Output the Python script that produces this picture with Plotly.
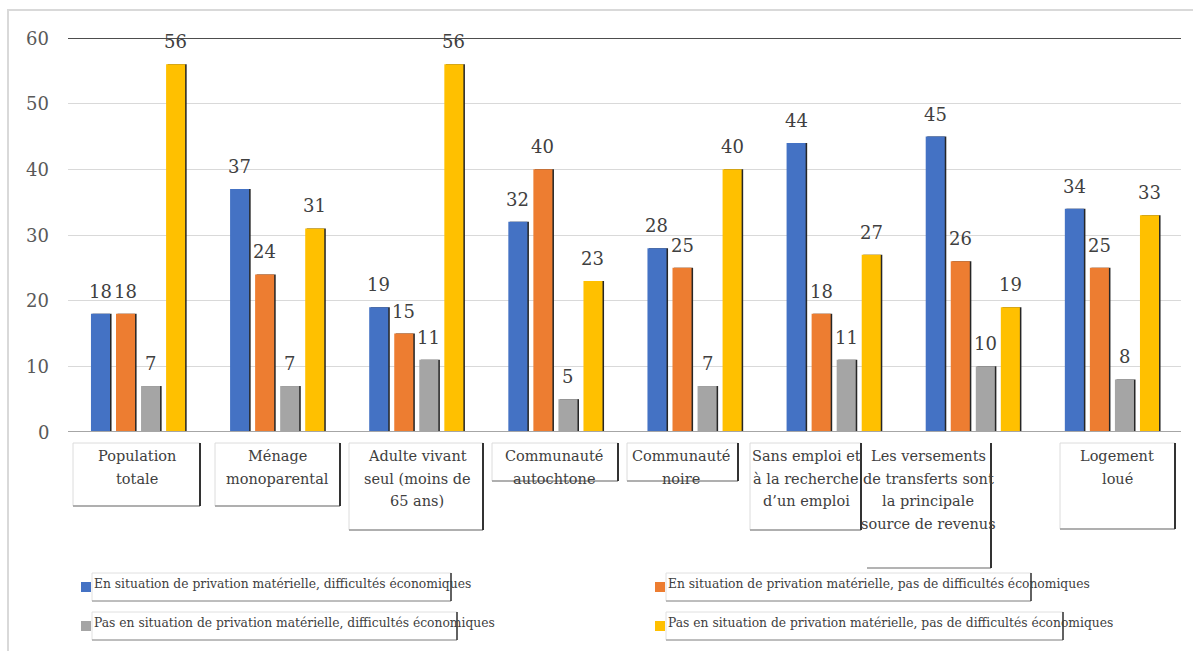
import plotly.graph_objects as go

# ---- data -------------------------------------------------------------
categories = [
    "Population<br>totale",
    "Ménage<br>monoparental",
    "Adulte vivant<br>seul (moins de<br>65 ans)",
    "Communauté<br>autochtone",
    "Communauté<br>noire",
    "Sans emploi et<br>à la recherche<br>d’un emploi",
    "Les versements<br>de transferts sont<br>la principale<br>source de revenus",
    "Logement<br>loué",
]
series_names = [
    "En situation de privation matérielle, difficultés économiques",
    "En situation de privation matérielle, pas de difficultés économiques",
    "Pas en situation de privation matérielle, difficultés économiques",
    "Pas en situation de privation matérielle, pas de difficultés économiques",
]
privation_difficultes = [18, 37, 19, 32, 28, 44, 45, 34]
privation_sans_difficultes = [18, 24, 15, 40, 25, 18, 26, 25]
sans_privation_difficultes = [7, 7, 11, 5, 7, 11, 10, 8]
sans_privation_sans_difficultes = [56, 31, 56, 23, 40, 27, 19, 33]
y_tick_values = [0, 10, 20, 30, 40, 50, 60]

series_values = [
    privation_difficultes,
    privation_sans_difficultes,
    sans_privation_difficultes,
    sans_privation_sans_difficultes,
]

# ---- styling / layout constants -----------------------------------------
COLORS = ["#4472C4", "#ED7D31", "#A5A5A5", "#FFC000"]
FONT = "DejaVu Serif"
TEXT = "#404040"
WIDTH, HEIGHT = 1193, 651
M_L, M_R, M_T, M_B = 68, 12, 38, 219
PLOT_W = WIDTH - M_L - M_R
PLOT_H = HEIGHT - M_T - M_B
BAR_W = 0.137
BAR_STEP = 0.18
FIRST_OFFSET = -0.335
SHADOW_DX = 0.011


def px(x):
    """page pixel x -> paper coordinate"""
    return (x - M_L) / PLOT_W


def py(y):
    """page pixel y -> paper coordinate"""
    return (HEIGHT - M_B - y) / PLOT_H


# category label frames: (x0, x1, y0, y1, text centre x, draw top/left)
label_frames = [
    (73, 200, 443, 506, 137, True),
    (215, 340, 443, 506, 277, True),
    (349, 483, 443, 530, 417, True),
    (492, 618, 443, 481, 554, True),
    (627, 738, 443, 481, 681, True),
    (750, 861, 443, 530, 806, True),
    (867, 991, 443, 568, 928, False),
    (1060, 1175, 443, 529, 1117, True),
]
# legend entries: (marker x, text x, text centre y, frame x1)
legend_slots = [
    (81, 92, 584, 451),
    (655, 666, 584, 1031),
    (81, 92, 623, 457),
    (655, 666, 623, 1063),
]
legend_order = [0, 1, 2, 3]

x_pos = list(range(len(categories)))

fig = go.Figure()

# bars with a thin dark drop edge on the right
for k, vals in enumerate(series_values):
    off = FIRST_OFFSET + k * BAR_STEP
    fig.add_trace(go.Bar(
        x=x_pos, y=vals, width=BAR_W, offset=off + SHADOW_DX,
        marker=dict(color="#262626", line=dict(width=0)),
        showlegend=False, hoverinfo="skip",
    ))
    fig.add_trace(go.Bar(
        x=x_pos, y=vals, width=BAR_W, offset=off,
        marker=dict(color=COLORS[k], line=dict(width=0)),
        name=series_names[k], showlegend=False,
    ))

annotations = []
shapes = []

# y-axis tick labels
for t in y_tick_values:
    annotations.append(dict(
        x=px(51), y=t, xref="paper", yref="y", text=str(t), showarrow=False,
        xanchor="right", yanchor="middle",
        font=dict(family=FONT, size=18, color="#595959"),
    ))

# value labels
for k, vals in enumerate(series_values):
    off = FIRST_OFFSET + k * BAR_STEP
    for i, v in enumerate(vals):
        annotations.append(dict(
            x=i + off + BAR_W / 2, y=v, xref="x", yref="y",
            text=str(v), showarrow=False, yanchor="bottom", yshift=10,
            font=dict(family=FONT, size=18, color=TEXT),
        ))

# category labels in their frames
for cat, (x0, x1, y0, y1, cx, full) in zip(categories, label_frames):
    if full:
        shapes.append(dict(type="rect", xref="paper", yref="paper",
                           x0=px(x0), x1=px(x1), y0=py(y1), y1=py(y0),
                           line=dict(color="#dcdcdc", width=1)))
    shapes.append(dict(type="line", xref="paper", yref="paper",
                       x0=px(x0), x1=px(x1), y0=py(y1), y1=py(y1),
                       line=dict(color="#9a9a9a", width=1.5)))
    shapes.append(dict(type="line", xref="paper", yref="paper",
                       x0=px(x1), x1=px(x1), y0=py(y1), y1=py(y0),
                       line=dict(color="#333333", width=2)))
    for j, line in enumerate(cat.split("<br>")):
        annotations.append(dict(
            x=px(cx), y=py(456 + j * 22.7), xref="paper", yref="paper",
            text=line, showarrow=False, xanchor="center", yanchor="middle",
            font=dict(family=FONT, size=14.5, color=TEXT),
        ))

# legend
for k, (mx, tx, ty, fx1) in zip(legend_order, legend_slots):
    shapes.append(dict(type="rect", xref="paper", yref="paper",
                       x0=px(mx), x1=px(mx + 10), y0=py(ty + 8), y1=py(ty - 2),
                       fillcolor=COLORS[k], line=dict(width=0)))
    shapes.append(dict(type="rect", xref="paper", yref="paper",
                       x0=px(tx), x1=px(fx1), y0=py(ty + 17), y1=py(ty - 11),
                       line=dict(color="#e0e0e0", width=1)))
    shapes.append(dict(type="line", xref="paper", yref="paper",
                       x0=px(tx), x1=px(fx1), y0=py(ty + 17), y1=py(ty + 17),
                       line=dict(color="#8c8c8c", width=1.2)))
    shapes.append(dict(type="line", xref="paper", yref="paper",
                       x0=px(fx1), x1=px(fx1), y0=py(ty + 17), y1=py(ty - 11),
                       line=dict(color="#333333", width=1.5)))
    annotations.append(dict(
        x=px(tx), y=py(ty), xref="paper", yref="paper",
        text=series_names[k], showarrow=False, xanchor="left", yanchor="middle",
        font=dict(family=FONT, size=12.3, color=TEXT),
    ))

# outer chart frame
shapes.append(dict(type="rect", xref="paper", yref="paper",
                   x0=px(8), x1=px(1200), y0=py(660), y1=py(10),
                   line=dict(color="#d9d9d9", width=2), layer="below"))
# dark top gridline and baseline
shapes.append(dict(type="line", xref="paper", yref="y", x0=0, x1=1,
                   y0=y_tick_values[-1], y1=y_tick_values[-1],
                   line=dict(color="#4d4d4d", width=2)))
shapes.append(dict(type="line", xref="paper", yref="y", x0=0, x1=1,
                   y0=0, y1=0, line=dict(color="#a6a6a6", width=2)))

fig.update_layout(
    width=WIDTH, height=HEIGHT,
    margin=dict(l=M_L, r=M_R, t=M_T, b=M_B),
    paper_bgcolor="white", plot_bgcolor="white",
    barmode="overlay",
    showlegend=False,
    font=dict(family=FONT, color=TEXT),
    xaxis=dict(range=[-0.5, len(categories) - 0.5], showticklabels=False,
               showgrid=False, zeroline=False, showline=False, ticks=""),
    yaxis=dict(range=[0, 60], tickvals=y_tick_values, showgrid=True,
               gridcolor="#d9d9d9", gridwidth=1, zeroline=False,
               ticks="", showticklabels=False),
    annotations=annotations,
    shapes=shapes,
)

fig.write_html("out.html")
